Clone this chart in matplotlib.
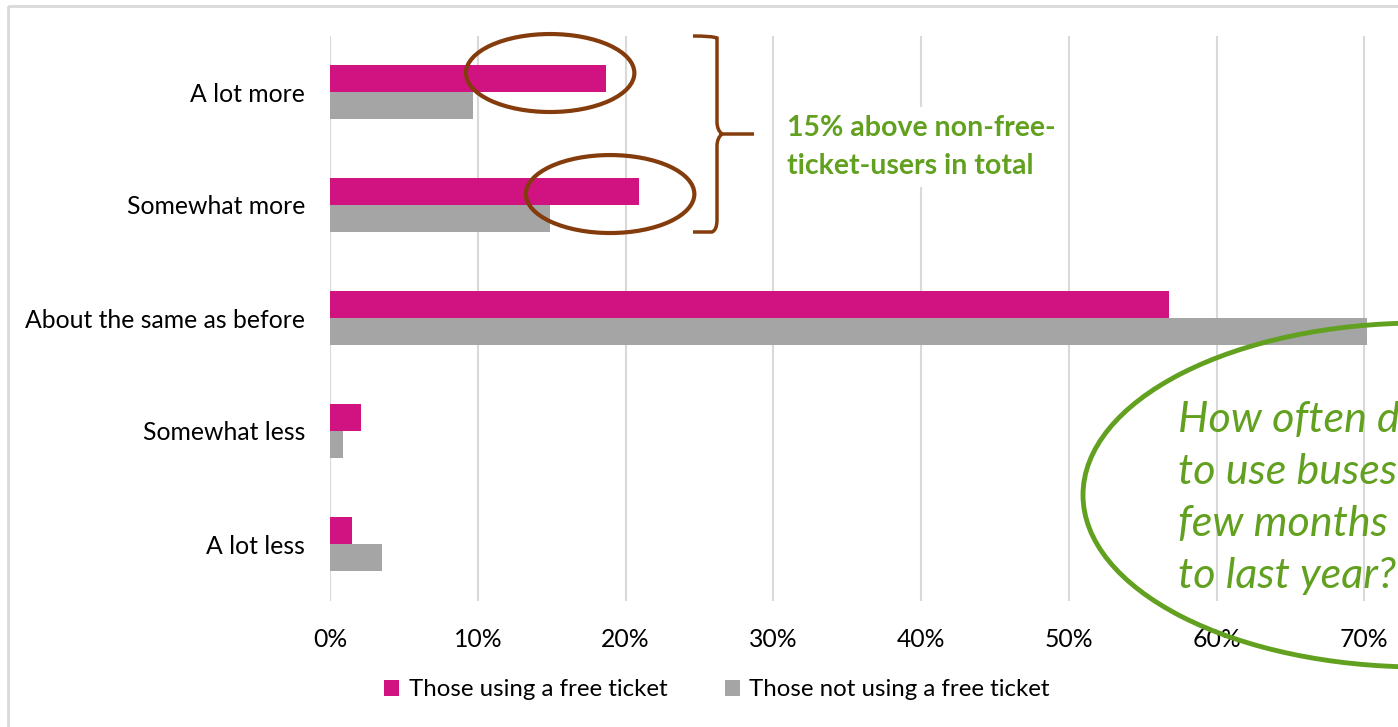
import matplotlib
matplotlib.use("Agg")
import matplotlib.pyplot as plt
import matplotlib.transforms as mtransforms
from matplotlib.patches import Ellipse, Rectangle, PathPatch
from matplotlib.path import Path
from matplotlib.ticker import PercentFormatter
import numpy as np

categories = ["A lot more", "Somewhat more", "About the same as before", "Somewhat less", "A lot less"]
free_ticket = [0.187, 0.209, 0.568, 0.021, 0.015]
no_free_ticket = [0.097, 0.149, 0.702, 0.009, 0.035]
series_names = ["Those using a free ticket", "Those not using a free ticket"]
ticks = [0, 0.1, 0.2, 0.3, 0.4, 0.5, 0.6, 0.7, 0.8]

PINK = "#D01380"
GREY = "#A5A5A5"
GRID = "#D9D9D9"
BROWN = "#843C0C"
GREEN = "#62A020"

plt.rcParams["font.family"] = ["Lato", "DejaVu Sans"]

W, H = 1398, 727
fig = plt.figure(figsize=(W / 100, H / 100), dpi=100)
# pixel coordinates, origin top-left
px = mtransforms.Affine2D().scale(1 / W, -1 / H).translate(0, 1) + fig.transFigure

ax = fig.add_axes([330 / W, 1 - 600.5 / H, (1512 - 330) / W, 565 / H])

y = np.arange(len(categories))
h = 0.239
ax.barh(y - h / 2, free_ticket, height=h, color=PINK, label=series_names[0], zorder=3)
ax.barh(y + h / 2, no_free_ticket, height=h, color=GREY, label=series_names[1], zorder=3)

ax.set_xlim(0, 0.8)
ax.set_ylim(len(categories) - 0.5, -0.5)
ax.set_yticks(y)
ax.set_yticklabels(categories)
ax.set_xticks(ticks)
ax.xaxis.set_major_formatter(PercentFormatter(1.0, decimals=0))
ax.tick_params(axis="both", length=0, labelsize=17.8, colors="black")
ax.tick_params(axis="y", pad=18)
ax.tick_params(axis="x", pad=20)
ax.grid(axis="x", color=GRID, linewidth=1.5, zorder=0)
for s in ax.spines.values():
    s.set_visible(False)

# chart border
fig.patches.append(Rectangle((8, 6), 1600, 900, transform=px, fill=False,
                             edgecolor=GRID, linewidth=2))

# brown ellipses around the free-ticket bars
for cx, cy in [(0.149, -0.168), (0.1896, 0.903)]:
    ax.add_patch(Ellipse((cx, cy), 0.114, 0.69, fill=False, edgecolor=BROWN,
                         linewidth=3, zorder=5, clip_on=False))

# curly brace
verts = [(693, 36), (712, 36), (717, 38), (717, 48),
         (717, 122), (717, 130), (722, 134), (754, 134),
         (722, 134), (717, 138), (717, 146),
         (717, 220), (717, 230), (712, 232), (693, 232)]
codes = [Path.MOVETO, Path.CURVE3, Path.CURVE3, Path.LINETO,
         Path.LINETO, Path.CURVE3, Path.CURVE3, Path.LINETO,
         Path.MOVETO, Path.CURVE3, Path.CURVE3,
         Path.LINETO, Path.CURVE3, Path.CURVE3, Path.LINETO]
fig.patches.append(PathPatch(Path(verts, codes), transform=px, fill=False,
                             edgecolor=BROWN, linewidth=2.5))

fig.text(787 / W, 1 - 147 / H, "15% above non-free-\nticket-users in total",
         color=GREEN, fontsize=20.5, fontweight="bold", ha="left", va="center",
         linespacing=1.55,
         bbox=dict(facecolor="white", edgecolor="none", pad=6))

# big green ellipse with question text
fig.patches.append(Ellipse((1420, 495), 674, 344, transform=px, fill=False,
                           edgecolor=GREEN, linewidth=3.5))
fig.text(1178 / W, 1 - 498 / H,
         "How often do you expect\nto use buses in the next\nfew months compared\nto last year?",
         color=GREEN, fontsize=31, fontstyle="italic", ha="left", va="center",
         linespacing=1.45)

fig.legend(loc="center", bbox_to_anchor=(717 / W, 1 - 690 / H), ncol=2,
           frameon=False, fontsize=17.3, handlelength=0.62, handleheight=0.62,
           handletextpad=0.4, columnspacing=2.4)

fig.savefig("out.png", dpi=100)
